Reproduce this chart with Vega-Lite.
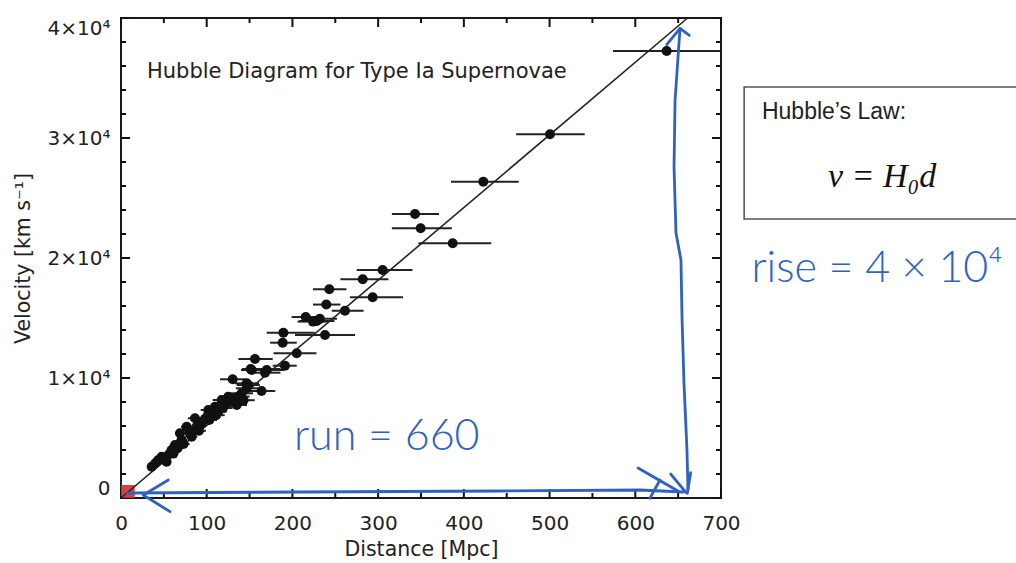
{
  "$schema": "https://vega.github.io/schema/vega-lite/v6.json",
  "autosize": {"type": "none"},
  "padding": {"left": 121, "top": 18, "right": 295, "bottom": 65},
  "width": 600,
  "height": 480,
  "background": "white",
  "config": {
    "view": {"stroke": "#1a1a1a", "strokeWidth": 2},
    "axis": {"labelFont": "DejaVu Sans", "titleFont": "DejaVu Sans", "labelColor": "#222", "titleColor": "#222", "grid": false, "titleFontWeight": "normal", "labelFontSize": 20, "titleFontSize": 20.5}
  },
  "datasets": {
    "sn": [
      {"d": 636.6, "v": 37250, "lo": 574, "hi": 700},
      {"d": 500.5, "v": 30308, "lo": 461, "hi": 541},
      {"d": 422.7, "v": 26358, "lo": 385, "hi": 464},
      {"d": 343, "v": 23667, "lo": 316, "hi": 371},
      {"d": 349.6, "v": 22475, "lo": 316, "hi": 386},
      {"d": 387, "v": 21225, "lo": 347, "hi": 432},
      {"d": 305.2, "v": 19000, "lo": 275, "hi": 340},
      {"d": 282, "v": 18225, "lo": 256, "hi": 312},
      {"d": 243, "v": 17390, "lo": 224, "hi": 263},
      {"d": 293.6, "v": 16725, "lo": 267, "hi": 329},
      {"d": 239.5, "v": 16120, "lo": 224, "hi": 256},
      {"d": 261.3, "v": 15608, "lo": 246, "hi": 283},
      {"d": 215.5, "v": 15080, "lo": 199, "hi": 233},
      {"d": 232, "v": 14930, "lo": 212, "hi": 252},
      {"d": 228.5, "v": 14760, "lo": 208, "hi": 249},
      {"d": 224, "v": 14700, "lo": 206, "hi": 242},
      {"d": 189.4, "v": 13775, "lo": 170, "hi": 226},
      {"d": 238, "v": 13583, "lo": 203, "hi": 273},
      {"d": 188.6, "v": 12942, "lo": 174, "hi": 205},
      {"d": 205, "v": 12058, "lo": 178, "hi": 228},
      {"d": 156.3, "v": 11583, "lo": 137, "hi": 177},
      {"d": 191.3, "v": 11025, "lo": 177, "hi": 205},
      {"d": 151.3, "v": 10750, "lo": 141, "hi": 186},
      {"d": 170, "v": 10667, "lo": 150, "hi": 190},
      {"d": 168, "v": 10442, "lo": 150, "hi": 186},
      {"d": 130.3, "v": 9892, "lo": 115.5, "hi": 145},
      {"d": 164, "v": 8917, "lo": 148, "hi": 180},
      {"d": 146.7, "v": 9558, "lo": 133, "hi": 161},
      {"d": 148.5, "v": 9417, "lo": 135, "hi": 162},
      {"d": 146.6, "v": 9142, "lo": 134, "hi": 160},
      {"d": 140.8, "v": 8725, "lo": 128, "hi": 154},
      {"d": 135, "v": 7750, "lo": 123, "hi": 147},
      {"d": 133, "v": 8308, "lo": 121, "hi": 145},
      {"d": 125.2, "v": 8442, "lo": 114, "hi": 136},
      {"d": 121.3, "v": 7892, "lo": 110, "hi": 132},
      {"d": 117.5, "v": 8167, "lo": 107, "hi": 128},
      {"d": 113.5, "v": 7192, "lo": 104, "hi": 123},
      {"d": 109.7, "v": 7608, "lo": 100, "hi": 119},
      {"d": 105.8, "v": 7058, "lo": 96, "hi": 116},
      {"d": 101.9, "v": 7333, "lo": 93, "hi": 111},
      {"d": 94, "v": 6225, "lo": 86, "hi": 102},
      {"d": 88.2, "v": 5942, "lo": 80, "hi": 96},
      {"d": 86.3, "v": 6642, "lo": 78, "hi": 94},
      {"d": 82.4, "v": 5108, "lo": 75, "hi": 89},
      {"d": 76.6, "v": 5942, "lo": 70, "hi": 83},
      {"d": 70.7, "v": 4833, "lo": 65, "hi": 77},
      {"d": 68.8, "v": 5392, "lo": 63, "hi": 75},
      {"d": 63, "v": 4417, "lo": 57, "hi": 69},
      {"d": 59, "v": 4000, "lo": 54, "hi": 64},
      {"d": 53.2, "v": 3025, "lo": 48, "hi": 58},
      {"d": 47.5, "v": 3442, "lo": 43, "hi": 52},
      {"d": 43.5, "v": 3167, "lo": 40, "hi": 47},
      {"d": 35.8, "v": 2608, "lo": 32, "hi": 39},
      {"d": 40, "v": 2900, "lo": 36, "hi": 44},
      {"d": 50, "v": 3200, "lo": 45, "hi": 55},
      {"d": 56, "v": 3650, "lo": 51, "hi": 61},
      {"d": 61, "v": 3700, "lo": 55, "hi": 67},
      {"d": 66, "v": 4150, "lo": 60, "hi": 72},
      {"d": 73, "v": 4500, "lo": 66, "hi": 80},
      {"d": 80, "v": 5450, "lo": 73, "hi": 87},
      {"d": 91, "v": 5600, "lo": 83, "hi": 99},
      {"d": 98, "v": 6600, "lo": 89, "hi": 107},
      {"d": 103, "v": 6500, "lo": 94, "hi": 112},
      {"d": 111, "v": 6900, "lo": 101, "hi": 121},
      {"d": 119, "v": 7500, "lo": 108, "hi": 130},
      {"d": 128, "v": 8000, "lo": 116, "hi": 140},
      {"d": 137, "v": 8450, "lo": 124, "hi": 150},
      {"d": 143, "v": 8150, "lo": 130, "hi": 156},
      {"d": 152.5, "v": 10667, "lo": 140, "hi": 166}
    ],
    "xmaj": [{"p": 0}, {"p": 100}, {"p": 200}, {"p": 300}, {"p": 400}, {"p": 500}, {"p": 600}, {"p": 700}],
    "xmin": [{"p": 50}, {"p": 150}, {"p": 250}, {"p": 350}, {"p": 450}, {"p": 550}, {"p": 650}],
    "ymaj": [{"p": 0}, {"p": 10000}, {"p": 20000}, {"p": 30000}, {"p": 40000}],
    "ymin": [{"p": 2000}, {"p": 4000}, {"p": 6000}, {"p": 8000}, {"p": 12000}, {"p": 14000}, {"p": 16000}, {"p": 18000}, {"p": 22000}, {"p": 24000}, {"p": 26000}, {"p": 28000}, {"p": 32000}, {"p": 34000}, {"p": 36000}, {"p": 38000}],
    "fit": [{"d": 0, "v": 0}, {"d": 661, "v": 40000}],
    "redsq": [{"x1": 0, "x2": 16, "y1": 0, "y2": 1083}],
    "box": [{"x1": 727, "x2": 1060, "y1": 23250, "y2": 34250}],
    "plottitle": [{"x": 30.3, "y": 35500, "t": "Hubble Diagram for Type Ia Supernovae"}],
    "boxlabel": [{"x": 747.8, "y": 32167, "t": "Hubble’s Law:"}],
    "equation": [{"x": 888, "y": 26775, "t": "v = H₀d"}],
    "ink": [
      {"x": 310, "y": 4000, "t": "run = 660"},
      {"x": 882, "y": 18000, "t": "rise = 4 × 10⁴"}
    ],
    "strokes": [
      {"g": "h", "o": 1, "x": 7, "y": 417},
      {"g": "h", "o": 2, "x": 209, "y": 500},
      {"g": "h", "o": 3, "x": 442, "y": 583},
      {"g": "h", "o": 4, "x": 605, "y": 667},
      {"g": "h", "o": 5, "x": 656, "y": 500},
      {"g": "la", "o": 1, "x": 55.2, "y": 1500},
      {"g": "la", "o": 2, "x": 26, "y": 250},
      {"g": "la", "o": 3, "x": 57.2, "y": -1140},
      {"g": "ra1", "o": 1, "x": 603.2, "y": 2500},
      {"g": "ra1", "o": 2, "x": 649.8, "y": 583},
      {"g": "ra2", "o": 1, "x": 617, "y": -25},
      {"g": "ra2", "o": 2, "x": 628.8, "y": 1500},
      {"g": "v", "o": 1, "x": 652.2, "y": 39140},
      {"g": "v", "o": 2, "x": 646.4, "y": 33167},
      {"g": "v", "o": 3, "x": 645.2, "y": 27583},
      {"g": "v", "o": 4, "x": 647.5, "y": 22083},
      {"g": "v", "o": 5, "x": 653.3, "y": 19833},
      {"g": "v", "o": 6, "x": 654.5, "y": 15083},
      {"g": "v", "o": 7, "x": 656.8, "y": 9583},
      {"g": "v", "o": 8, "x": 660.3, "y": 4000},
      {"g": "v", "o": 9, "x": 661.5, "y": 667},
      {"g": "ta", "o": 1, "x": 636.7, "y": 37778},
      {"g": "ta", "o": 2, "x": 652.2, "y": 39140},
      {"g": "ta", "o": 3, "x": 663, "y": 38556},
      {"g": "ba1", "o": 1, "x": 641.3, "y": 2000},
      {"g": "ba1", "o": 2, "x": 659.2, "y": 442},
      {"g": "ba2", "o": 1, "x": 664.6, "y": 2108},
      {"g": "ba2", "o": 2, "x": 660.7, "y": 392}
    ]
  },
  "resolve": {"axis": {"x": "independent", "y": "independent"}},
  "layer": [
    {
      "data": {"name": "sn"},
      "mark": {"type": "rule", "color": "#222", "strokeWidth": 2},
      "encoding": {
        "x": {"field": "lo", "type": "quantitative", "scale": {"domain": [0, 700], "nice": false, "zero": false},
              "axis": {"orient": "bottom", "values": [0, 100, 200, 300, 400, 500, 600, 700], "domain": false, "ticks": false, "labelPadding": 15, "labelFlush": false, "title": "Distance [Mpc]", "titlePadding": 6}},
        "x2": {"field": "hi"},
        "y": {"field": "v", "type": "quantitative", "scale": {"domain": [0, 40000], "nice": false, "zero": false},
              "axis": {"orient": "left", "values": [0, 10000, 20000, 30000, 40000], "domain": false, "ticks": false, "labelPadding": 11, "labelFlush": true,
                       "labelExpr": "datum.value == 0 ? '0' : (datum.value / 10000) + '×10⁴'", "title": "Velocity [km s⁻¹]", "titlePadding": 14}}
      }
    },
    {
      "data": {"name": "xmaj"},
      "mark": {"type": "tick", "orient": "vertical", "size": 9, "thickness": 2, "yOffset": -4.5, "color": "#111", "opacity": 1},
      "encoding": {
        "x": {"field": "p", "type": "quantitative", "scale": {"domain": [0, 700], "nice": false, "zero": false}, "axis": null},
        "y": {"datum": 0, "type": "quantitative", "scale": {"domain": [0, 40000], "nice": false, "zero": false}, "axis": null}
      }
    },
    {
      "data": {"name": "xmaj"},
      "mark": {"type": "tick", "orient": "vertical", "size": 9, "thickness": 2, "yOffset": 4.5, "color": "#111", "opacity": 1},
      "encoding": {
        "x": {"field": "p", "type": "quantitative", "scale": {"domain": [0, 700], "nice": false, "zero": false}, "axis": null},
        "y": {"datum": 40000, "type": "quantitative", "scale": {"domain": [0, 40000], "nice": false, "zero": false}, "axis": null}
      }
    },
    {
      "data": {"name": "xmin"},
      "mark": {"type": "tick", "orient": "vertical", "size": 5, "thickness": 2, "yOffset": -2.5, "color": "#111", "opacity": 1},
      "encoding": {
        "x": {"field": "p", "type": "quantitative", "scale": {"domain": [0, 700], "nice": false, "zero": false}, "axis": null},
        "y": {"datum": 0, "type": "quantitative", "scale": {"domain": [0, 40000], "nice": false, "zero": false}, "axis": null}
      }
    },
    {
      "data": {"name": "xmin"},
      "mark": {"type": "tick", "orient": "vertical", "size": 5, "thickness": 2, "yOffset": 2.5, "color": "#111", "opacity": 1},
      "encoding": {
        "x": {"field": "p", "type": "quantitative", "scale": {"domain": [0, 700], "nice": false, "zero": false}, "axis": null},
        "y": {"datum": 40000, "type": "quantitative", "scale": {"domain": [0, 40000], "nice": false, "zero": false}, "axis": null}
      }
    },
    {
      "data": {"name": "ymaj"},
      "mark": {"type": "tick", "orient": "horizontal", "size": 9, "thickness": 2, "xOffset": 4.5, "color": "#111", "opacity": 1},
      "encoding": {
        "x": {"datum": 0, "type": "quantitative", "scale": {"domain": [0, 700], "nice": false, "zero": false}, "axis": null},
        "y": {"field": "p", "type": "quantitative", "scale": {"domain": [0, 40000], "nice": false, "zero": false}, "axis": null}
      }
    },
    {
      "data": {"name": "ymaj"},
      "mark": {"type": "tick", "orient": "horizontal", "size": 9, "thickness": 2, "xOffset": -4.5, "color": "#111", "opacity": 1},
      "encoding": {
        "x": {"datum": 700, "type": "quantitative", "scale": {"domain": [0, 700], "nice": false, "zero": false}, "axis": null},
        "y": {"field": "p", "type": "quantitative", "scale": {"domain": [0, 40000], "nice": false, "zero": false}, "axis": null}
      }
    },
    {
      "data": {"name": "ymin"},
      "mark": {"type": "tick", "orient": "horizontal", "size": 5, "thickness": 2, "xOffset": 2.5, "color": "#111", "opacity": 1},
      "encoding": {
        "x": {"datum": 0, "type": "quantitative", "scale": {"domain": [0, 700], "nice": false, "zero": false}, "axis": null},
        "y": {"field": "p", "type": "quantitative", "scale": {"domain": [0, 40000], "nice": false, "zero": false}, "axis": null}
      }
    },
    {
      "data": {"name": "ymin"},
      "mark": {"type": "tick", "orient": "horizontal", "size": 5, "thickness": 2, "xOffset": -2.5, "color": "#111", "opacity": 1},
      "encoding": {
        "x": {"datum": 700, "type": "quantitative", "scale": {"domain": [0, 700], "nice": false, "zero": false}, "axis": null},
        "y": {"field": "p", "type": "quantitative", "scale": {"domain": [0, 40000], "nice": false, "zero": false}, "axis": null}
      }
    },
    {
      "data": {"name": "redsq"},
      "mark": {"type": "rect", "color": "#d42a2a", "opacity": 0.9},
      "encoding": {
        "x": {"field": "x1", "type": "quantitative", "scale": {"domain": [0, 700], "nice": false, "zero": false}, "axis": null},
        "x2": {"field": "x2"},
        "y": {"field": "y1", "type": "quantitative", "scale": {"domain": [0, 40000], "nice": false, "zero": false}, "axis": null},
        "y2": {"field": "y2"}
      }
    },
    {
      "data": {"name": "fit"},
      "mark": {"type": "line", "color": "#222", "strokeWidth": 1.6},
      "encoding": {
        "x": {"field": "d", "type": "quantitative", "scale": {"domain": [0, 700], "nice": false, "zero": false}, "axis": null},
        "y": {"field": "v", "type": "quantitative", "scale": {"domain": [0, 40000], "nice": false, "zero": false}, "axis": null}
      }
    },
    {
      "data": {"name": "sn"},
      "mark": {"type": "circle", "color": "#111", "opacity": 1, "size": 100},
      "encoding": {
        "x": {"field": "d", "type": "quantitative", "scale": {"domain": [0, 700], "nice": false, "zero": false}, "axis": null},
        "y": {"field": "v", "type": "quantitative", "scale": {"domain": [0, 40000], "nice": false, "zero": false}, "axis": null}
      }
    },
    {
      "data": {"name": "plottitle"},
      "mark": {"type": "text", "font": "DejaVu Sans", "fontSize": 21, "color": "#222", "align": "left", "baseline": "middle"},
      "encoding": {
        "x": {"field": "x", "type": "quantitative", "scale": {"domain": [0, 700], "nice": false, "zero": false}, "axis": null},
        "y": {"field": "y", "type": "quantitative", "scale": {"domain": [0, 40000], "nice": false, "zero": false}, "axis": null},
        "text": {"field": "t"}
      }
    },
    {
      "data": {"name": "box"},
      "mark": {"type": "rect", "fill": "white", "stroke": "#555", "strokeWidth": 1.6},
      "encoding": {
        "x": {"field": "x1", "type": "quantitative", "scale": {"domain": [0, 700], "nice": false, "zero": false}, "axis": null},
        "x2": {"field": "x2"},
        "y": {"field": "y1", "type": "quantitative", "scale": {"domain": [0, 40000], "nice": false, "zero": false}, "axis": null},
        "y2": {"field": "y2"}
      }
    },
    {
      "data": {"name": "boxlabel"},
      "mark": {"type": "text", "font": "Liberation Sans", "fontSize": 23, "color": "#222", "align": "left", "baseline": "middle"},
      "encoding": {
        "x": {"field": "x", "type": "quantitative", "scale": {"domain": [0, 700], "nice": false, "zero": false}, "axis": null},
        "y": {"field": "y", "type": "quantitative", "scale": {"domain": [0, 40000], "nice": false, "zero": false}, "axis": null},
        "text": {"field": "t"}
      }
    },
    {
      "data": {"name": "equation"},
      "mark": {"type": "text", "font": "Liberation Serif", "fontStyle": "italic", "fontSize": 34, "color": "#111", "align": "center", "baseline": "middle"},
      "encoding": {
        "x": {"field": "x", "type": "quantitative", "scale": {"domain": [0, 700], "nice": false, "zero": false}, "axis": null},
        "y": {"field": "y", "type": "quantitative", "scale": {"domain": [0, 40000], "nice": false, "zero": false}, "axis": null},
        "text": {"field": "t"}
      }
    },
    {
      "data": {"name": "strokes"},
      "mark": {"type": "line", "color": "#2f62c0", "strokeWidth": 2.8, "strokeCap": "round", "strokeJoin": "round"},
      "encoding": {
        "x": {"field": "x", "type": "quantitative", "scale": {"domain": [0, 700], "nice": false, "zero": false}, "axis": null},
        "y": {"field": "y", "type": "quantitative", "scale": {"domain": [0, 40000], "nice": false, "zero": false}, "axis": null},
        "detail": {"field": "g"},
        "order": {"field": "o"}
      }
    },
    {
      "data": {"name": "ink"},
      "mark": {"type": "text", "font": "Lato", "fontWeight": 300, "fontSize": 43, "color": "#2f62c0", "align": "center", "baseline": "alphabetic"},
      "encoding": {
        "x": {"field": "x", "type": "quantitative", "scale": {"domain": [0, 700], "nice": false, "zero": false}, "axis": null},
        "y": {"field": "y", "type": "quantitative", "scale": {"domain": [0, 40000], "nice": false, "zero": false}, "axis": null},
        "text": {"field": "t"}
      }
    }
  ]
}
